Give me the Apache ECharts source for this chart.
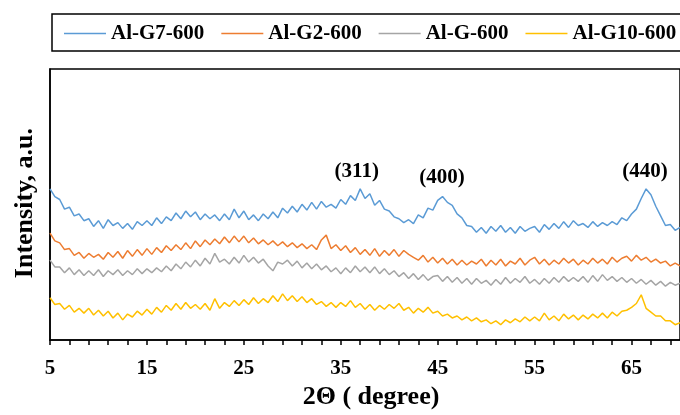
<!DOCTYPE html>
<html>
<head>
<meta charset="utf-8">
<script src="https://cdn.jsdelivr.net/npm/echarts@6/dist/echarts.min.js"></script>
<style>
html,body{margin:0;padding:0;background:#fff;}
#chart{width:680px;height:415px;}
</style>
</head>
<body>
<div id="chart"></div>
<script>
// 2θ sampling positions (degree)
const twoTheta = [
5,5.5,6,6.5,7,7.5,8,8.5,9,9.5,
10,10.5,11,11.5,12,12.5,13,13.5,14,14.5,
15,15.5,16,16.5,17,17.5,18,18.5,19,19.5,
20,20.5,21,21.5,22,22.5,23,23.5,24,24.5,
25,25.5,26,26.5,27,27.5,28,28.5,29,29.5,
30,30.5,31,31.5,32,32.5,33,33.5,34,34.5,
35,35.5,36,36.5,37,37.5,38,38.5,39,39.5,
40,40.5,41,41.5,42,42.5,43,43.5,44,44.5,
45,45.5,46,46.5,47,47.5,48,48.5,49,49.5,
50,50.5,51,51.5,52,52.5,53,53.5,54,54.5,
55,55.5,56,56.5,57,57.5,58,58.5,59,59.5,
60,60.5,61,61.5,62,62.5,63,63.5,64,64.5,
65,65.5,66,66.5,67,67.5,68,68.5,69,69.5,
70];

const seriesNames = ['Al-G7-600','Al-G2-600','Al-G-600','Al-G10-600'];

const alG7 = [
157,149,146,136,138,129,131,124,126,118,
124,116,125,119,122,116,121,115,123,119,
124,119,127,121,128,124,132,126,134,128,
133,125,131,126,130,124,131,125,136,127,
134,125,130,124,131,126,133,127,137,132,
139,133,141,135,143,136,144,138,141,137,
146,141,150,145,157,147,152,140,145,136,
134,128,126,122,125,121,130,127,137,135,
145,149,143,140,131,127,119,118,112,117,
111,118,113,119,112,117,111,118,113,116,
118,112,120,115,121,116,123,117,124,119,
121,117,123,118,122,119,123,120,127,124,
131,136,147,157,151,139,129,119,120,114,
117];

const alG2 = [
111,103,101,94,95,88,91,85,90,86,
89,84,91,86,92,85,93,87,94,88,
95,89,96,91,98,93,99,94,101,95,
103,97,104,99,105,100,107,101,108,102,
108,101,106,100,104,99,103,98,102,97,
101,96,100,95,99,94,104,109,95,99,
93,98,91,96,89,94,88,95,87,93,
88,94,87,93,89,86,83,88,81,86,
80,85,79,84,78,83,78,82,79,84,
77,83,78,84,77,82,79,85,78,83,
86,79,84,78,83,79,85,80,84,78,
83,79,85,80,84,79,86,81,85,87,
82,88,83,86,81,84,80,82,77,80,
77];

const alG = [
83,76,76,70,75,68,73,67,72,67,
73,66,72,68,73,67,72,68,74,69,
74,70,75,71,77,72,79,74,81,76,
83,77,85,79,90,81,84,79,86,80,
88,81,86,80,84,77,72,81,79,83,
77,82,75,80,74,79,73,77,71,75,
69,75,70,77,71,76,70,76,69,74,
68,72,66,70,64,69,63,68,62,66,
67,61,66,60,65,59,64,58,64,59,
62,57,63,58,65,59,64,60,66,59,
63,58,64,59,65,60,66,61,65,61,
66,60,67,61,68,62,66,61,65,60,
64,59,63,58,62,57,61,56,60,57,
59];

const alG10 = [
44,37,38,32,36,29,33,28,33,26,
31,25,30,23,28,21,27,24,30,26,
32,27,34,29,36,31,38,32,39,33,
37,32,38,31,43,33,39,35,41,36,
42,37,44,38,43,39,46,40,48,41,
46,40,45,39,43,37,40,35,39,34,
39,35,41,34,38,32,37,31,36,32,
37,33,38,31,34,28,33,29,34,28,
30,25,27,23,25,21,24,20,23,19,
21,17,20,16,21,18,22,19,24,20,
24,20,28,21,25,20,27,22,26,21,
26,22,27,23,28,23,29,25,30,31,
34,38,47,33,29,25,25,20,20,16,
18];

const xLabelValues = [5,15,25,35,45,55,65];
const xTickValues = [5,7,9,11,13,15,17,19,21,23,25,27,29,31,33,35,37,39,41,43,45,47,49,51,53,55,57,59,61,63,65,67,69];

const peakLabels = ['(311)','(400)','(440)'];
const peakTheta = [36.65, 45.45, 66.4];
const peakLevel = [175, 169, 175];

const colors = ['#5B9BD5','#ED7D31','#A5A5A5','#FFC000'];
const valueSets = [alG7, alG2, alG, alG10];
const FONT = 'Liberation Serif';

const chart = echarts.init(document.getElementById('chart'), null, {renderer:'canvas'});

const series = seriesNames.map((name, i) => {
  const s = {
    name: name,
    type: 'line',
    data: twoTheta.map((x, k) => [x, valueSets[i][k]]),
    showSymbol: false,
    symbol: 'none',
    smooth: false,
    animation: false,
    lineStyle: {color: colors[i], width: 1.5},
    itemStyle: {color: colors[i]},
    z: 3 + i
  };
  if (i === 0) {
    s.markPoint = {
      symbol: 'rect',
      symbolSize: 1,
      itemStyle: {color: 'rgba(0,0,0,0)'},
      label: {
        show: true, position: 'inside', color: '#000',
        fontFamily: FONT, fontWeight: 'bold', fontSize: 21,
        formatter: p => p.name
      },
      data: peakLabels.map((t, k) => ({name: t, coord: [peakTheta[k], peakLevel[k]]}))
    };
  }
  return s;
});

chart.setOption({
  animation: false,
  backgroundColor: '#fff',
  color: colors,
  graphic: [{
    type: 'rect', z: 0,
    shape: {x: 52, y: 14, width: 700, height: 37},
    style: {fill: '#fff', stroke: '#000', lineWidth: 1.5}
  }],
  legend: {
    data: seriesNames,
    left: 64, top: 23, width: 1000, padding: 0,
    icon: 'rect',
    itemWidth: 42, itemHeight: 1.5, itemGap: 17,
    textStyle: {fontFamily: FONT, fontWeight: 'bold', fontSize: 21, color: '#000'},
    z: 10
  },
  grid: {
    left: 50, top: 69, right: -7, bottom: 64.5,
    show: true, borderColor: '#000', borderWidth: 1.5, backgroundColor: 'rgba(0,0,0,0)'
  },
  xAxis: {
    type: 'value', min: 5, max: 70,
    name: '2\u0398 ( degree)',
    nameLocation: 'middle', nameGap: 41,
    nameTextStyle: {fontFamily: FONT, fontWeight: 'bold', fontSize: 26, color: '#000', padding: [0,0,0,12]},
    axisLine: {show: true, lineStyle: {color: '#000', width: 1.5}},
    axisTick: {show: true, inside: false, length: 5, customValues: xTickValues, lineStyle: {color: '#000', width: 1.5}},
    axisLabel: {show: true, margin: 18, customValues: xLabelValues, fontFamily: FONT, fontWeight: 'bold', fontSize: 21, color: '#000'},
    splitLine: {show: false}
  },
  yAxis: {
    type: 'value', min: 0, max: 281.5,
    name: 'Intensity, a.u.',
    nameLocation: 'middle', nameGap: 12, nameRotate: 90,
    nameTextStyle: {fontFamily: FONT, fontWeight: 'bold', fontSize: 26, color: '#000', padding: [0,0,0,3]},
    axisLine: {show: true, lineStyle: {color: '#000', width: 1.5}},
    axisTick: {show: false},
    axisLabel: {show: false},
    splitLine: {show: false}
  },
  series: series
});
</script>
</body>
</html>
